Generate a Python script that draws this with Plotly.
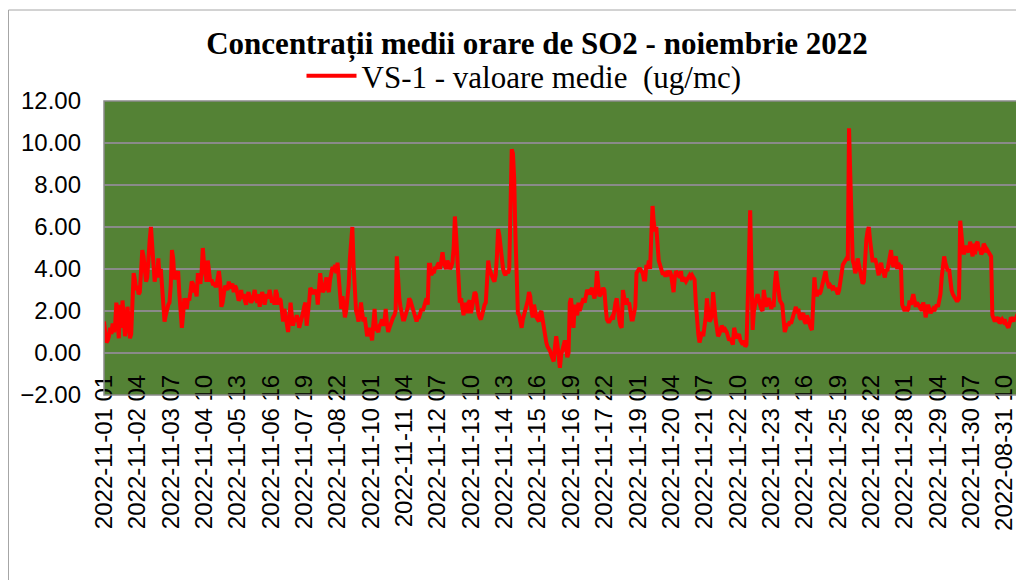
import plotly.graph_objects as go

TITLE = "Concentrații medii orare de SO2 - noiembrie 2022"
SERIES_NAME = "VS-1 - valoare medie  (ug/mc)"

# hourly values, one row per day (24 values each)
DAY01 = [1.5, 1.0, 0.5, 0.6, 0.8, 1.2, 0.9, 1.4, 1.0, 1.3, 2.4, 1.5, 0.7, 2.3, 1.2, 2.5, 1.4, 0.8, 1.3, 2.2, 1.6, 0.7, 0.9, 2.8]
DAY02 = [3.8, 3.5, 3.0, 3.2, 2.8, 2.9, 3.8, 4.9, 4.6, 4.0, 3.4, 3.6, 4.8, 5.4, 6.0, 5.2, 4.0, 3.4, 3.8, 3.6, 4.5, 3.6, 4.0, 3.2]
DAY03 = [2.2, 1.5, 1.8, 2.2, 2.3, 2.4, 3.2, 4.9, 4.5, 3.5, 3.8, 3.7, 3.9, 2.8, 1.8, 1.2, 1.8, 2.6, 2.4, 2.1, 2.6, 2.5, 2.9, 3.4]
DAY04 = [3.3, 2.9, 3.0, 2.7, 3.8, 3.5, 3.3, 3.9, 5.0, 4.2, 3.7, 3.4, 4.4, 3.8, 3.4, 3.5, 3.3, 3.3, 3.2, 3.2, 3.5, 3.9, 3.4, 2.2]
DAY05 = [2.4, 3.0, 3.2, 3.1, 3.0, 3.4, 3.1, 3.2, 3.3, 2.9, 3.2, 3.1, 2.7, 2.5, 2.6, 3.0, 2.6, 2.8, 2.5, 2.3, 2.7, 2.9, 2.6, 2.4]
DAY06 = [2.5, 2.8, 3.0, 2.6, 2.4, 2.8, 2.2, 2.6, 2.9, 2.7, 2.3, 2.6, 2.8, 2.6, 3.0, 2.7, 2.4, 2.6, 2.3, 3.0, 2.8, 2.3, 2.6, 2.5]
DAY07 = [1.8, 1.5, 2.1, 1.8, 1.4, 1.0, 1.6, 2.4, 1.8, 1.3, 1.6, 1.5, 1.8, 1.6, 1.2, 1.4, 1.6, 1.9, 2.2, 2.4, 1.3, 1.7, 2.4, 3.1]
DAY08 = [3.0, 2.8, 3.0, 2.9, 3.0, 2.3, 2.9, 3.8, 3.2, 2.9, 3.0, 3.4, 3.6, 3.1, 2.9, 3.5, 4.0, 4.1, 3.9, 4.2, 3.8, 4.3, 3.6, 2.4]
DAY09 = [2.1, 2.7, 1.9, 1.7, 2.0, 2.5, 3.2, 4.5, 5.6, 6.0, 4.2, 3.0, 2.0, 1.8, 1.5, 1.9, 2.4, 1.9, 1.5, 1.7, 1.2, 0.8, 1.0, 1.2]
DAY10 = [0.9, 0.6, 1.4, 2.1, 1.2, 1.1, 1.0, 1.3, 1.4, 1.6, 1.3, 1.5, 2.1, 1.4, 1.0, 1.2, 1.4, 1.6, 1.7, 1.8, 2.0, 4.6, 3.5, 2.6]
DAY11 = [2.2, 1.9, 1.6, 1.6, 1.8, 2.0, 2.2, 2.6, 2.5, 2.3, 2.1, 1.8, 1.6, 1.5, 1.7, 1.7, 1.9, 2.1, 2.0, 2.2, 2.4, 2.6, 2.3, 4.2]
DAY12 = [4.2, 3.7, 3.9, 3.8, 4.1, 4.0, 4.2, 4.3, 4.0, 4.6, 4.8, 4.3, 4.1, 4.0, 4.4, 4.2, 4.0, 4.1, 4.3, 5.0, 6.5, 5.6, 4.6, 3.0]
DAY13 = [2.4, 2.6, 2.2, 1.8, 2.4, 2.1, 1.9, 2.4, 2.5, 1.9, 2.2, 2.6, 2.9, 2.8, 2.2, 1.9, 1.7, 1.6, 1.8, 2.1, 2.3, 2.4, 3.4, 4.4]
DAY14 = [4.0, 3.8, 3.6, 3.5, 3.4, 3.7, 4.6, 5.9, 5.6, 4.9, 4.3, 4.0, 3.8, 3.7, 3.9, 3.8, 4.0, 6.5, 9.7, 9.5, 8.3, 5.6, 3.2, 1.9]
DAY15 = [1.8, 1.5, 1.2, 1.6, 1.8, 2.0, 2.2, 2.5, 2.9, 2.7, 2.0, 1.7, 2.3, 1.8, 1.7, 1.6, 1.5, 1.9, 2.0, 1.6, 1.2, 0.7, 0.5, 0.3]
DAY16 = [0.2, 0.1, -0.1, -0.3, -0.4, 0.3, 0.8, 0.4, -0.2, -0.7, -0.1, 0.2, 0.5, 0.6, 0.2, -0.2, 0.0, 2.4, 2.6, 1.7, 1.2, 2.3, 2.0, 1.8]
DAY17 = [2.4, 2.0, 2.2, 2.4, 2.6, 2.4, 2.7, 3.0, 2.9, 2.8, 3.0, 3.1, 2.8, 2.6, 3.0, 3.9, 3.3, 2.7, 2.8, 2.9, 3.1, 3.0, 2.2, 1.6]
DAY18 = [1.5, 1.5, 1.6, 1.7, 1.6, 2.2, 2.4, 2.6, 1.9, 1.6, 1.3, 1.2, 3.0, 2.5, 2.3, 2.6, 2.3, 2.4, 1.9, 1.6, 1.6, 1.9, 2.2, 3.8]
DAY19 = [3.9, 4.0, 4.0, 3.9, 3.8, 3.5, 3.5, 4.2, 4.0, 4.4, 4.0, 5.6, 7.0, 6.2, 5.8, 6.0, 4.8, 4.4, 4.2, 3.9, 3.8, 3.8, 3.7, 3.7]
DAY20 = [3.9, 3.8, 3.9, 3.7, 3.3, 2.9, 3.6, 3.9, 3.8, 3.7, 3.6, 3.9, 3.4, 3.6, 3.5, 3.4, 3.5, 3.6, 3.7, 3.6, 3.7, 3.6, 3.5, 2.4]
DAY21 = [1.4, 0.9, 0.5, 0.7, 1.0, 0.8, 1.2, 1.7, 2.6, 1.8, 1.5, 1.6, 1.8, 2.9, 2.0, 1.6, 1.2, 0.8, 0.9, 1.1, 1.3, 1.2, 1.0, 1.1]
DAY22 = [1.0, 0.8, 0.6, 0.7, 0.5, 0.4, 1.2, 0.9, 0.7, 0.8, 0.9, 0.6, 0.5, 0.4, 0.6, 0.3, 0.4, 2.0, 4.5, 6.8, 4.0, 1.1, 2.0, 2.4]
DAY23 = [2.6, 2.8, 2.4, 2.3, 2.1, 2.0, 3.0, 2.4, 2.2, 2.5, 2.6, 2.4, 2.1, 2.3, 2.2, 3.3, 3.9, 3.4, 2.8, 2.5, 2.4, 2.3, 1.6, 1.0]
DAY24 = [1.2, 1.4, 1.3, 1.5, 1.4, 1.6, 1.7, 1.9, 2.2, 1.9, 2.1, 1.7, 1.6, 1.8, 1.9, 1.5, 1.4, 1.8, 1.6, 1.3, 1.2, 1.1, 2.2, 3.6]
DAY25 = [2.9, 2.7, 3.0, 2.8, 2.9, 3.2, 3.4, 3.7, 3.9, 3.5, 3.3, 3.1, 3.2, 3.1, 3.2, 3.0, 3.1, 2.9, 2.8, 3.0, 3.4, 3.9, 4.2, 4.3]
DAY26 = [4.4, 4.5, 4.4, 10.7, 8.5, 6.0, 4.4, 4.2, 3.8, 4.0, 4.5, 4.2, 3.8, 3.6, 3.3, 3.4, 4.7, 5.4, 5.8, 6.0, 5.4, 4.6, 4.4, 4.4]
DAY27 = [4.5, 4.3, 3.8, 3.7, 4.1, 4.3, 3.9, 3.8, 3.6, 4.0, 3.9, 4.2, 4.5, 4.9, 4.3, 4.1, 4.4, 4.6, 4.0, 4.3, 4.1, 4.2, 2.3, 2.1]
DAY28 = [2.0, 2.2, 2.0, 2.1, 2.5, 2.3, 2.6, 2.8, 2.5, 2.2, 2.4, 2.3, 2.2, 2.3, 2.0, 2.4, 2.2, 1.7, 2.0, 2.3, 2.1, 1.9, 2.0, 2.1]
DAY29 = [2.0, 2.2, 2.3, 2.2, 2.6, 2.8, 3.6, 4.2, 4.6, 4.3, 4.0, 3.9, 4.0, 3.4, 3.0, 2.8, 2.7, 2.6, 2.5, 2.5, 2.6, 6.3, 5.4, 5.0]
DAY30 = [4.7, 4.9, 5.1, 4.9, 4.8, 5.3, 5.0, 4.6, 5.2, 4.7, 5.2, 5.3, 4.9, 5.0, 4.7, 4.8, 5.2, 5.1, 4.8, 4.9, 4.8, 4.7, 4.6, 1.8]
DAY31 = [1.6, 1.5, 1.7, 1.6, 1.7, 1.4, 1.5, 1.6, 1.5, 1.6, 1.4, 1.3, 1.2, 1.4, 1.7, 1.6, 1.5, 1.7, 1.6, 1.8, 1.9, 2.2, 2.4, 2.6]

DAYS = [DAY01, DAY02, DAY03, DAY04, DAY05, DAY06, DAY07, DAY08, DAY09, DAY10,
        DAY11, DAY12, DAY13, DAY14, DAY15, DAY16, DAY17, DAY18, DAY19, DAY20,
        DAY21, DAY22, DAY23, DAY24, DAY25, DAY26, DAY27, DAY28, DAY29, DAY30, DAY31]
# date part of the category label for each row (the last row is labelled 2022-08-31 in the source)
DAY_LABELS = ["2022-11-%02d" % d for d in range(1, 31)] + ["2022-08-31"]
HOURS = ["%02d" % h for h in range(1, 25)]

categories = []
values = []
for dlab, row in zip(DAY_LABELS, DAYS):
    for h, v in zip(HOURS, row):
        categories.append(dlab + " " + h)
        values.append(v)

TICK_STEP = 27
tick_labels = categories[::TICK_STEP]

Y_MIN, Y_MAX, Y_STEP = -2, 12, 2

fig = go.Figure()
fig.add_trace(go.Scatter(
    x=categories, y=values, mode="lines", name=SERIES_NAME,
    line=dict(color="#FF0000", width=4), showlegend=True,
))

# the page body has an 8px margin, so the figure is 1016x572 and offset by 8px
W, H = 1016, 572
L, R, T, B = 96, 2, 93, 185
plot_w = W - L - R
plot_h = H - T - B
zero_pos = (0 - Y_MIN) / (Y_MAX - Y_MIN)

fig.update_layout(
    width=W, height=H,
    margin=dict(l=L, r=R, t=T, b=B, autoexpand=False),
    paper_bgcolor="white",
    plot_bgcolor="#548235",
    title=dict(text=TITLE, x=529 / W, xanchor="center", y=1 - 35 / H, yanchor="middle",
               font=dict(family="Liberation Serif", size=31, color="black", weight="bold")),
    showlegend=True,
    legend=dict(orientation="h", x=(516 - L) / plot_w, xanchor="center",
                y=(H - B - 68) / plot_h, yanchor="middle",
                font=dict(family="Liberation Serif", size=31, color="black"),
                bgcolor="rgba(0,0,0,0)", itemwidth=50),
    xaxis=dict(
        type="category", range=[0, len(categories) - 1],
        anchor="free", position=zero_pos,
        tickmode="array", tickvals=tick_labels, ticktext=tick_labels,
        tickangle=-90, showgrid=False, zeroline=False, showline=False,
        ticks="", ticklabelstandoff=16, automargin=False,
        tickfont=dict(family="Liberation Sans", size=24, color="black"),
    ),
    yaxis=dict(
        range=[Y_MIN, Y_MAX], dtick=Y_STEP, tick0=Y_MIN, tickformat=".2f",
        showgrid=True, gridcolor="#8a8a8a", gridwidth=1.5, zeroline=False,
        showline=False, ticks="", ticklabelstandoff=22, automargin=False,
        tickfont=dict(family="Liberation Sans", size=24, color="black"),
    ),
    shapes=[
        dict(type="rect", xref="paper", yref="paper", x0=0, x1=1, y0=0, y1=1,
             line=dict(color="#8a8a8a", width=1.5), layer="above"),
        dict(type="rect", xref="paper", yref="paper",
             x0=(0.5 - L) / plot_w, x1=1.05,
             y0=-0.7, y1=(H - B - 2) / plot_h,
             line=dict(color="#a6a6a6", width=1), layer="below"),
    ],
)

fig.write_html("out.html")
